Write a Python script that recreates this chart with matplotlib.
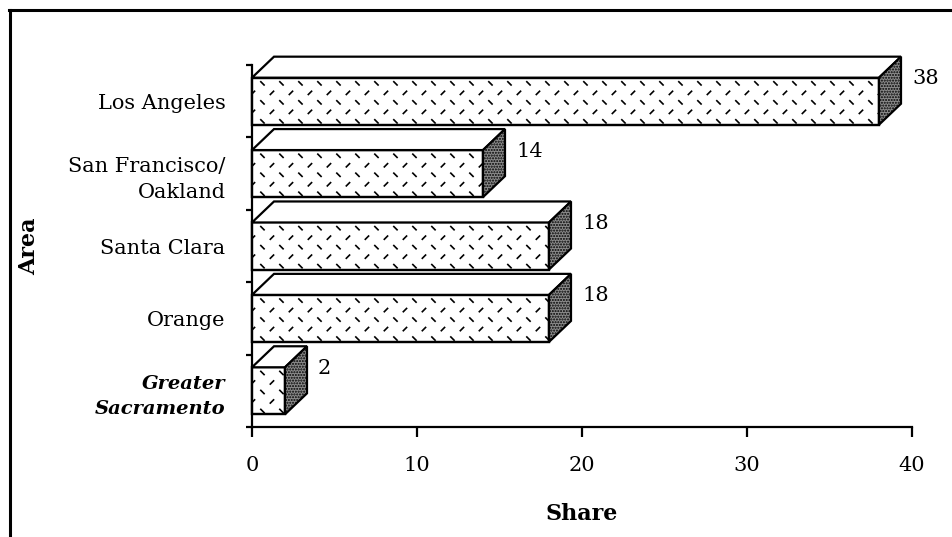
import numpy as np
import matplotlib
matplotlib.use("Agg")
import matplotlib.pyplot as plt
from matplotlib.patches import Polygon, Rectangle
from matplotlib.collections import LineCollection
from matplotlib.lines import Line2D

# Data (top to bottom as displayed)
areas = ["Los Angeles", "San Francisco/\nOakland", "Santa Clara", "Orange", "Greater\nSacramento"]
shares = [38, 14, 18, 18, 2]
x_ticks = [0, 10, 20, 30, 40]

W, H = 952, 537
fig = plt.figure(figsize=(W / 100, H / 100), dpi=100)
FONT = "DejaVu Serif"

ax_l, ax_r, ax_t, ax_b = 252, 912, 65, 427  # axes box in pixels
ax = fig.add_axes([ax_l / W, 1 - ax_b / H, (ax_r - ax_l) / W, (ax_b - ax_t) / H])

n = len(areas)
ax.set_xlim(0, 40)
ax.set_ylim(0, n)

# pixel -> data scale factors
sx = 40 / (ax_r - ax_l)
sy = n / (ax_b - ax_t)

bar_h = 0.65
depth_x = 22 * sx
depth_y = 21 * sy
lw = 1.6


def front_texture(x0, y0, x1, y1, clip):
    """Short alternating diagonal dashes filling the front face."""
    col_px, row_px, half = 19.0, 9.5, 2.2
    segs = []
    nrows = int((y1 - y0) / (row_px * sy)) + 2
    ncols = int((x1 - x0) / (col_px * sx)) + 2
    for r in range(nrows):
        cy = y1 - (r + 0.6) * row_px * sy
        sign = 1 if r % 2 == 0 else -1
        off = 0.5 if r % 2 else 0.0
        for c in range(-1, ncols):
            cx = x0 + (c + off + 0.55) * col_px * sx
            segs.append([(cx - half * sx, cy + sign * half * sy),
                         (cx + half * sx, cy - sign * half * sy)])
    lc = LineCollection(segs, colors="black", linewidths=1.2, zorder=4,
                        clip_on=True)
    ax.add_collection(lc)
    lc.set_clip_path(clip)


for i, (name, val) in enumerate(zip(areas, shares)):
    yc = n - 0.5 - i
    y0, y1 = yc - bar_h / 2, yc + bar_h / 2
    x0, x1 = 0, val

    front = Rectangle((x0, y0), x1 - x0, y1 - y0, facecolor="white",
                      edgecolor="black", lw=lw, zorder=3, clip_on=False)
    ax.add_patch(front)
    front_texture(x0, y0, x1, y1, front)
    ax.add_patch(Rectangle((x0, y0), x1 - x0, y1 - y0, facecolor="none",
                           edgecolor="black", lw=lw, zorder=5, clip_on=False))

    top = Polygon([(x0, y1), (x0 + depth_x, y1 + depth_y),
                   (x1 + depth_x, y1 + depth_y), (x1, y1)],
                  closed=True, facecolor="white", edgecolor="black",
                  lw=lw, zorder=5, clip_on=False)
    ax.add_patch(top)

    side = Polygon([(x1, y0), (x1, y1), (x1 + depth_x, y1 + depth_y),
                    (x1 + depth_x, y0 + depth_y)],
                   closed=True, facecolor="#8c8c8c", edgecolor="black",
                   hatch="......", lw=lw, zorder=5, clip_on=False)
    ax.add_patch(side)

    ax.text(x1 + depth_x + 11 * sx, y1 - 1 * sy, f"{val}", ha="left",
            va="center", fontsize=15, family=FONT, zorder=6)

# axes styling
for s in ["top", "right"]:
    ax.spines[s].set_visible(False)
for s in ["left", "bottom"]:
    ax.spines[s].set_linewidth(1.6)

ax.set_xticks(x_ticks)
ax.set_xticklabels([str(t) for t in x_ticks], family=FONT, fontsize=15)
ax.tick_params(axis="x", direction="out", length=7, width=1.6, pad=14)

ax.set_yticks(np.arange(0, n + 1))
ax.set_yticklabels([])
ax.tick_params(axis="y", which="major", direction="out", length=4.5, width=1.6)
ax.set_yticks(np.arange(n) + 0.5, minor=True)
ax.set_yticklabels(areas[::-1], minor=True, family=FONT, fontsize=15)
ax.tick_params(axis="y", which="minor", length=0, pad=19)
for lab in ax.get_yticklabels(minor=True):
    lab.set_multialignment("right")
    lab.set_linespacing(1.5)
    if lab.get_text().startswith("Greater"):
        lab.set_fontweight("bold")
        lab.set_fontstyle("italic")
        lab.set_fontsize(14)

ax.set_xlabel("Share", family=FONT, fontsize=16, fontweight="bold", labelpad=20)
ax.set_ylabel("Area", family=FONT, fontsize=16, fontweight="bold")
ax.yaxis.set_label_coords(-(ax_l - 40) / (ax_r - ax_l), 0.5)

# outer frame (left and top rules)
fig.add_artist(Line2D([9.5 / W, 9.5 / W], [0, 1 - 10 / H], color="black",
                      lw=2.2, transform=fig.transFigure))
fig.add_artist(Line2D([8.5 / W, 1], [1 - 10 / H, 1 - 10 / H], color="black",
                      lw=2.2, transform=fig.transFigure))

fig.savefig("out.png", dpi=100, facecolor="white")
